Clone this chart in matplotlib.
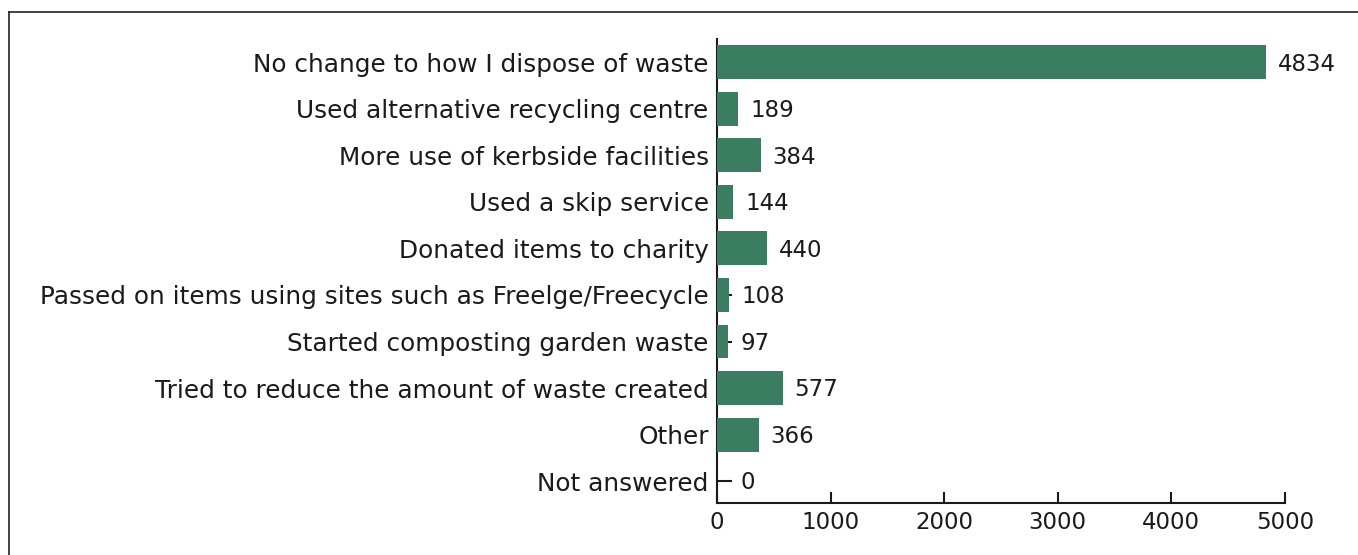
import matplotlib
matplotlib.use("Agg")
from matplotlib import pyplot as plt
from matplotlib.lines import Line2D

categories = [
    "No change to how I dispose of waste",
    "Used alternative recycling centre",
    "More use of kerbside facilities",
    "Used a skip service",
    "Donated items to charity",
    "Passed on items using sites such as Freelge/Freecycle",
    "Started composting garden waste",
    "Tried to reduce the amount of waste created",
    "Other",
    "Not answered",
]
counts = [4834, 189, 384, 144, 440, 108, 97, 577, 366, 0]
xticks = [0, 1000, 2000, 3000, 4000, 5000]

plt.rcParams['font.family'] = ['DejaVu Sans']
text_col = '#1a1a1a'
bar_col = '#3b7d61'
fs = 16.5

fig = plt.figure(figsize=(13.58, 5.55), dpi=100)
ax = fig.add_axes([0.528, 0.0937, 0.4182, 0.836])

pos = list(range(len(categories)))
ax.barh(pos, counts, height=0.73, color=bar_col, zorder=3)
for p, v in zip(pos, counts):
    # keep the label clear of the tick mark on very short bars
    ax.text(max(v, 100) + 105, p + 0.04, str(v), va='center', ha='left', fontsize=fs, color=text_col)

ax.set_yticks(pos)
ax.set_yticklabels(categories, fontsize=17.8, color=text_col)
ax.set_ylim(9.47, -0.5)
ax.set_xlim(0, 5000)
ax.set_xticks(xticks)
ax.set_xticklabels([str(t) for t in xticks], fontsize=fs, color=text_col)

for s in ['top', 'right']:
    ax.spines[s].set_visible(False)
for s in ['left', 'bottom']:
    ax.spines[s].set_linewidth(1.5)
    ax.spines[s].set_color(text_col)
ax.tick_params(axis='y', direction='in', length=11, width=1.5, pad=6, color=text_col)
ax.tick_params(axis='x', direction='in', length=8, width=1.5, pad=6, color=text_col)

# outer frame (only top and left edges visible)
fig.add_artist(Line2D([9 / 1358, 9 / 1358], [0, 1 - 12 / 555], transform=fig.transFigure, color='#222222', lw=1.2))
fig.add_artist(Line2D([9 / 1358, 1], [1 - 12 / 555, 1 - 12 / 555], transform=fig.transFigure, color='#222222', lw=1.2))

plt.savefig('out.png', dpi=100)
